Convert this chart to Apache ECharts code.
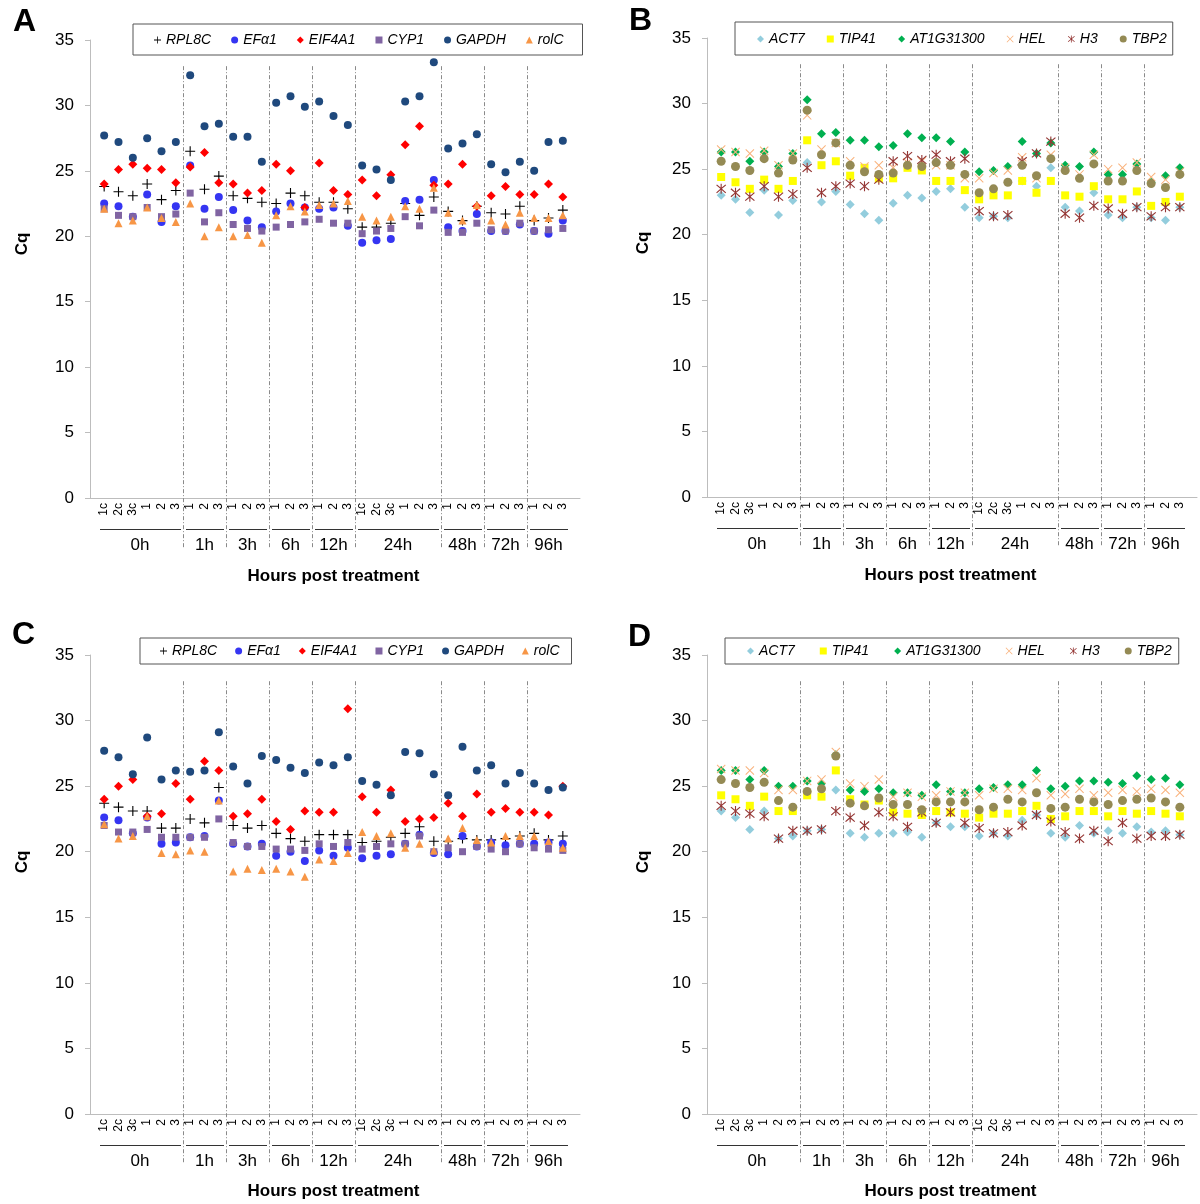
<!DOCTYPE html>
<html><head><meta charset="utf-8">
<script src="https://cdn.jsdelivr.net/npm/echarts@6/dist/echarts.min.js"></script>
<style>html,body{margin:0;padding:0;background:#fff}#c{width:1200px;height:1204px}</style>
</head><body><div id="c"></div>
<script>
// ---------- data ----------
const categories = ['1c','2c','3c','1','2','3','1','2','3','1','2','3','1','2','3','1','2','3','1c','2c','3c','1','2','3','1','2','3','1','2','3','1','2','3'];
const groupLabels = ['0h','1h','3h','6h','12h','24h','48h','72h','96h'];
const groupSizes = [6,3,3,3,3,6,3,3,3];
const yMin = 0, yMax = 35, yStep = 5;
const genesAC = ['RPL8C','EF\u03b11','EIF4A1','CYP1','GAPDH','rolC'];
const genesBD = ['ACT7','TIP41','AT1G31300','HEL','H3','TBP2'];

// Panel A
const A_RPL8C = [23.8,23.4,23.1,24.0,22.8,23.5, 26.5,23.6,24.6, 23.1,22.9,22.6, 22.5,23.3,23.1, 22.6,22.6,22.1, 20.7,20.7,21.0,22.5,21.6,23.0, 21.9,21.2,22.3, 21.8,21.7,22.3, 21.2,21.4,22.0];
const A_EFa1 = [22.5,22.3,21.5,23.2,21.1,22.3, 25.4,22.1,23.0, 22.0,21.2,20.7, 21.9,22.5,22.2, 22.1,22.2,20.8, 19.5,19.7,19.8,22.7,22.8,24.3, 20.7,20.4,21.7, 20.4,20.4,20.9, 20.4,20.2,21.2];
const A_EIF4A1 = [24.0,25.1,25.5,25.2,25.1,24.1, 25.3,26.4,24.1, 24.0,23.3,23.5, 25.5,25.0,22.2, 25.6,23.5,23.2, 24.3,23.1,24.7,27.0,28.4,23.9, 24.0,25.5,22.3, 23.1,23.8,23.2, 23.2,24.0,23.0];
const A_CYP1 = [22.1,21.6,21.5,22.2,21.5,21.7, 23.3,21.1,21.8, 20.9,20.6,20.4, 20.7,20.9,21.1, 21.3,21.0,21.0, 20.2,20.4,20.6,21.5,20.8,22.0, 20.3,20.3,21.0, 20.5,20.4,21.0, 20.4,20.5,20.6];
const A_GAPDH = [27.7,27.2,26.0,27.5,26.5,27.2, 32.3,28.4,28.6, 27.6,27.6,25.7, 30.2,30.7,29.9, 30.3,29.2,28.5, 25.4,25.1,24.3,30.3,30.7,33.3, 26.7,27.1,27.8, 25.5,24.9,25.7, 25.0,27.2,27.3];
const A_rolC = [22.1,21.0,21.2,22.2,21.4,21.1, 22.5,20.0,20.7, 20.0,20.1,19.5, 21.6,22.3,21.9, 22.4,22.5,22.7, 21.5,21.2,21.5,22.3,22.1,23.7, 21.8,21.2,22.4, 21.2,20.9,21.8, 21.4,21.4,21.6];

// Panel B
const B_ACT7 = [23.0,22.7,21.7,23.4,21.5,22.6, 25.5,22.5,23.3, 22.3,21.6,21.1, 22.4,23.0,22.8, 23.3,23.5,22.1, 21.3,21.4,21.3,24.1,23.7,25.1, 22.1,21.8,23.2, 21.5,21.3,22.1, 21.3,21.1,22.1];
const B_TIP41 = [24.4,24.0,23.5,24.2,23.5,24.1, 27.2,25.3,25.6, 24.5,25.1,24.3, 24.3,25.1,24.9, 24.1,24.1,23.4, 22.7,23.0,23.0,24.1,23.2,24.1, 23.0,22.9,23.7, 22.7,22.7,23.3, 22.2,22.5,22.9];
const B_AT1G31300 = [26.3,26.3,25.6,26.3,25.2,26.2, 30.3,27.7,27.8, 27.2,27.2,26.7, 26.8,27.7,27.4, 27.4,27.1,26.3, 24.8,24.9,25.2,27.1,26.2,27.0, 25.3,25.2,26.3, 24.6,24.6,25.4, 24.0,24.5,25.1];
const B_HEL = [26.5,26.3,26.2,26.4,25.3,26.2, 29.1,26.5,27.0, 25.6,25.2,25.3, 25.1,25.5,25.6, 25.3,25.3,24.3, 24.3,24.7,24.9,25.9,24.3,26.1, 25.1,24.6,26.1, 25.0,25.1,25.5, 24.4,24.2,24.8];
const B_H3 = [23.5,23.2,22.9,23.7,22.9,23.1, 25.1,23.2,23.7, 23.9,23.7,24.2, 25.6,26.0,25.7, 26.1,25.6,25.8, 21.8,21.4,21.5,25.6,26.2,27.1, 21.6,21.3,22.2, 22.0,21.6,22.1, 21.4,22.1,22.1];
const B_TBP2 = [25.6,25.2,24.9,25.8,24.7,25.7, 29.5,26.1,27.0, 25.3,24.8,24.6, 24.7,25.3,25.2, 25.5,25.3,24.6, 23.2,23.5,24.0,25.3,24.5,25.8, 24.9,24.3,25.4, 24.1,24.1,24.9, 23.9,23.6,24.6];

// Panel C
const C_RPL8C = [23.7,23.4,23.1,23.1,21.8,21.8, 22.5,22.2,24.9, 22.0,21.8,22.0, 21.4,21.0,20.8, 21.3,21.3,21.3, 20.7,20.8,21.1,21.4,21.9,20.8, 20.8,21.0,20.9, 20.9,21.0,21.2, 21.4,20.9,21.2];
const C_EFa1 = [22.6,22.4,21.4,22.6,20.6,20.7, 21.1,21.2,23.9, 20.6,20.4,20.6, 19.7,20.0,19.3, 20.1,19.7,20.3, 19.5,19.7,19.8,20.6,21.3,19.9, 19.8,21.2,20.4, 20.7,20.5,20.6, 20.6,20.7,20.6];
const C_EIF4A1 = [24.0,25.0,25.5,22.7,22.9,25.2, 24.0,26.9,26.2, 22.7,22.9,24.0, 22.3,21.7,23.1, 23.0,23.0,30.9, 24.2,23.0,24.7,22.3,22.5,22.6, 23.7,22.7,24.4, 23.0,23.3,23.0, 23.0,22.8,25.0];
const C_CYP1 = [22.0,21.5,21.5,21.7,21.1,21.1, 21.1,21.1,22.5, 20.7,20.4,20.4, 20.2,20.2,20.1, 20.6,20.4,20.7, 20.2,20.4,20.6,20.6,21.2,20.0, 20.3,20.0,20.4, 20.2,20.0,20.6, 20.3,20.2,20.1];
const C_GAPDH = [27.7,27.2,25.9,28.7,25.5,26.2, 26.1,26.2,29.1, 26.5,25.2,27.3, 27.0,26.4,26.0, 26.8,26.6,27.2, 25.4,25.1,24.3,27.6,27.5,25.9, 24.3,28.0,26.2, 26.6,25.2,26.0, 25.2,24.7,24.9];
const C_rolC = [22.1,21.0,21.2,22.7,19.9,19.8, 20.1,20.0,23.9, 18.5,18.7,18.6, 18.7,18.5,18.1, 19.4,19.3,19.9, 21.5,21.2,21.4,20.3,20.6,20.1, 21.0,21.8,20.9, 20.7,21.2,21.2, 21.2,20.8,20.3];

// Panel D
const D_ACT7 = [23.1,22.6,21.7,23.1,21.0,21.2, 21.6,21.7,24.7, 21.4,21.1,21.4, 21.4,21.5,21.1, 22.2,21.9,21.9, 21.2,21.4,21.2,22.4,22.8,21.4, 21.1,22.0,21.4, 21.6,21.4,21.9, 21.5,21.6,21.3];
const D_TIP41 = [24.3,24.0,23.5,24.2,23.1,23.1, 24.3,24.2,26.2, 24.0,23.6,23.9, 23.0,22.9,22.8, 23.1,23.0,22.9, 22.6,22.9,22.9,23.1,23.5,22.5, 22.7,23.1,23.1, 22.7,23.1,22.9, 23.1,22.9,22.7];
const D_AT1G31300 = [26.2,26.2,25.5,26.2,25.0,25.0, 25.4,25.2,27.4, 24.7,24.6,24.8, 24.5,24.5,24.3, 25.1,24.6,24.5, 24.8,24.9,25.1,25.1,26.2,24.8, 25.0,25.4,25.4, 25.3,25.2,25.8, 25.5,25.6,25.1];
const D_HEL = [26.3,26.2,26.2,26.0,24.7,24.7, 25.4,25.5,27.6, 25.2,25.0,25.5, 24.2,24.5,24.2, 24.3,24.6,24.5, 24.3,24.8,24.8,24.7,25.6,24.3, 24.4,24.8,24.3, 24.5,24.7,24.6, 24.8,24.7,24.5];
const D_H3 = [23.5,23.1,22.9,22.7,21.0,21.6, 21.6,21.7,23.1, 22.6,22.0,23.0, 22.7,21.9,23.0, 22.2,23.0,22.2, 21.8,21.4,21.5,22.0,22.8,22.3, 21.5,21.0,21.6, 20.8,22.2,21.0, 21.2,21.2,21.3];
const D_TBP2 = [25.5,25.2,24.9,25.3,23.9,23.4, 24.6,24.8,27.3, 23.7,23.5,24.1, 23.6,23.6,23.2, 23.8,23.8,23.8, 23.2,23.4,24.0,23.8,24.5,23.3, 23.4,24.0,23.8, 23.6,23.9,24.0, 24.1,23.8,23.4];

// ---------- styles ----------
const FONT = '"Liberation Sans", Arial, sans-serif';
const P_PLUS = 'path://M0,4.45H10V5.55H0ZM4.45,0H5.55V10H4.45Z';
const P_X = 'path://M0.8,0L5,4.2L9.2,0L10,0.8L5.8,5L10,9.2L9.2,10L5,5.8L0.8,10L0,9.2L4.2,5L0,0.8Z';
const P_AST = 'path://M0.8,0.6L5,4.2L9.2,0.6L10,1.4L5.8,5L10,8.6L9.2,9.4L5,5.8L0.8,9.4L0,8.6L4.2,5L0,1.4ZM4.45,0H5.55V10H4.45Z';
const stylesAC = [
  {symbol:P_PLUS, size:10, color:'#000000'},
  {symbol:'circle', size:8, color:'#3535f2'},
  {symbol:'diamond', size:9, color:'#ff0000'},
  {symbol:'rect', size:7, color:'#8064a2'},
  {symbol:'circle', size:8, color:'#1f497d'},
  {symbol:'triangle', size:8, color:'#f79646'}
];
const stylesBD = [
  {symbol:'diamond', size:9, color:'#93cddd'},
  {symbol:'rect', size:8, color:'#ffff00'},
  {symbol:'diamond', size:9, color:'#00b050'},
  {symbol:P_X, size:9, color:'#f9b27c'},
  {symbol:P_AST, size:10, color:'#953735'},
  {symbol:'circle', size:9, color:'#948a54'}
];

const panels = [
  {letter:'A', lx:13, ly:22, ox:0, top:40, h:458, cq:[22,244], nameGap:70, genes:genesAC, styles:stylesAC,
   data:[A_RPL8C,A_EFa1,A_EIF4A1,A_CYP1,A_GAPDH,A_rolC], legend:{left:133, top:24, padding:[9,19,8,21], gap:20}},
  {letter:'B', lx:629, ly:21, ox:617, top:38, h:459, cq:[643,243], nameGap:70, genes:genesBD, styles:stylesBD,
   data:[B_ACT7,B_TIP41,B_AT1G31300,B_HEL,B_H3,B_TBP2], legend:{left:735, top:22, padding:[10,6,9,22], gap:22}},
  {letter:'C', lx:12, ly:635, ox:0, top:655, h:459, cq:[22,862], nameGap:69, genes:genesAC, styles:stylesAC,
   data:[C_RPL8C,C_EFa1,C_EIF4A1,C_CYP1,C_GAPDH,C_rolC], legend:{left:140, top:638, padding:[6,12,6,20], gap:18}},
  {letter:'D', lx:628, ly:637, ox:617, top:655, h:459, cq:[643,862], nameGap:69, genes:genesBD, styles:stylesBD,
   data:[D_ACT7,D_TIP41,D_AT1G31300,D_HEL,D_H3,D_TBP2], legend:{left:725, top:638, padding:[6,7,6,22], gap:25}}
];

// group ranges [startIdx, endIdx]
const groups = [];
{ let s = 0; groupSizes.forEach(n => { groups.push([s, s + n - 1]); s += n; }); }

const grid = [], xAxis = [], yAxis = [], series = [], legend = [], graphic = [];
panels.forEach((p, k) => {
  const gHelp = 2*k, gMain = 2*k+1;
  grid.push({left:90+p.ox, top:p.top, width:490, height:p.h, outerBoundsMode:'none'});
  grid.push({left:97+p.ox, top:p.top, width:473, height:p.h, outerBoundsMode:'none'});
  xAxis.push({gridIndex:gHelp, type:'value', min:0, max:1, axisLine:{show:true, onZero:false, lineStyle:{color:'#bdbdbd', width:1}},
    axisTick:{show:false}, axisLabel:{show:false}, splitLine:{show:false}});
  xAxis.push({gridIndex:gMain, type:'category', data:categories, boundaryGap:true,
    axisLine:{show:false}, axisTick:{show:false}, splitLine:{show:false},
    axisLabel:{interval:0, rotate:90, fontSize:12, margin:5, color:'#000', fontFamily:FONT},
    name:'Hours post treatment', nameLocation:'middle', nameGap:p.nameGap,
    nameTextStyle:{fontWeight:'bold', fontSize:17, color:'#000', fontFamily:FONT}});
  yAxis.push({gridIndex:gHelp, type:'value', min:yMin, max:yMax, interval:yStep,
    axisLine:{show:true, lineStyle:{color:'#bdbdbd', width:1}},
    axisTick:{show:true, length:5, lineStyle:{color:'#bdbdbd'}},
    axisLabel:{fontSize:17, margin:16, color:'#000', fontFamily:FONT}, splitLine:{show:false}});
  yAxis.push({gridIndex:gMain, type:'value', min:yMin, max:yMax, interval:yStep, show:false, splitLine:{show:false}});

  // group decorations: underline, group label, dashed separators
  series.push({
    type:'custom', xAxisIndex:gMain, yAxisIndex:gMain, clip:false, silent:true, z:1,
    data: groups.map(g => [g[0], g[1]]),
    renderItem: function(params, api) {
      const s = api.value(0), e = api.value(1);
      const bw = api.size([1, 0])[0];
      const c0 = api.coord([s, 0]), c1 = api.coord([e, 0]);
      const xl = c0[0] - bw/2, xr = c1[0] + bw/2, y0 = c0[1];
      const yTop = api.coord([s, 33])[1];
      const ch = [
        {type:'line', shape:{x1:xl+3, y1:y0+31.5, x2:xr-2, y2:y0+31.5}, style:{stroke:'#333', lineWidth:1}},
        {type:'text', style:{text:groupLabels[params.dataIndex], x:(xl+xr)/2, y:y0+47, align:'center', verticalAlign:'middle',
          font:'17px ' + FONT, fill:'#000'}}
      ];
      if (params.dataIndex < groups.length - 1) {
        const xs = Math.round(xr) + 0.5;
        ch.push({type:'line', shape:{x1:xs, y1:yTop, x2:xs, y2:y0+50}, style:{stroke:'#8a8a8a', lineWidth:1, lineDash:[4,2,1,2]}});
      }
      return {type:'group', children:ch};
    }
  });

  p.genes.forEach((g, j) => {
    const st = p.styles[j];
    series.push({
      type:'scatter', name:g, xAxisIndex:gMain, yAxisIndex:gMain,
      symbol:st.symbol, symbolSize:st.size, itemStyle:{color:st.color, opacity:1},
      data: p.data[j].map((v, i) => [i, v]), z:2+j
    });
  });

  legend.push({
    data:p.genes, left:p.legend.left, top:p.legend.top, orient:'horizontal',
    padding:p.legend.padding, itemGap:p.legend.gap, itemWidth:7, itemHeight:7,
    borderColor:'#555', borderWidth:1, borderRadius:0, backgroundColor:'#fff',
    selectedMode:false,
    textStyle:{fontStyle:'italic', fontSize:14, color:'#000', fontFamily:FONT}
  });

  graphic.push({type:'text', x:p.lx, y:p.ly, style:{text:p.letter, font:'bold 32px ' + FONT, fill:'#000', align:'left', verticalAlign:'middle'}});
  graphic.push({type:'text', x:p.cq[0], y:p.cq[1], rotation:Math.PI/2,
    style:{text:'Cq', font:'bold 17px ' + FONT, fill:'#000', align:'center', verticalAlign:'middle'}});
});

const chart = echarts.init(document.getElementById('c'), null, {renderer:'canvas', width:1200, height:1204});
chart.setOption({
  animation:false, backgroundColor:'#fff',
  grid, xAxis, yAxis, series, legend, graphic
});
</script>
</body></html>
